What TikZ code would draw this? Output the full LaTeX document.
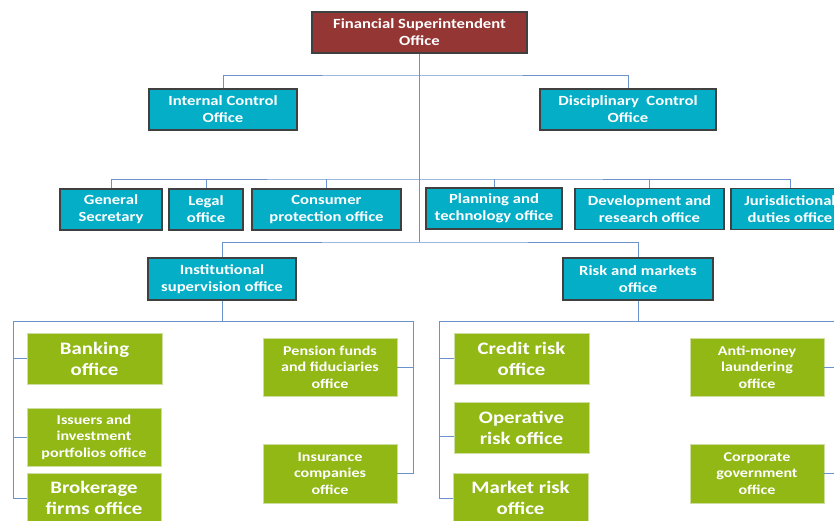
\documentclass[tikz,border=0pt]{standalone}
\usepackage{fontspec}
\setmainfont{Carlito}[FakeStretch=1.19]
\definecolor{tealbox}{RGB}{5,174,199}
\definecolor{redbox}{RGB}{148,54,52}
\definecolor{greenbox}{RGB}{146,184,22}
\definecolor{greenedge}{RGB}{205,222,160}
\definecolor{linkcol}{RGB}{108,146,204}
\begin{document}
\begin{tikzpicture}[x=1pt,y=-1pt,
  boxbase/.style={rectangle, inner sep=0pt, align=center, text=white, font=\bfseries},
  tealnode/.style={boxbase, fill=tealbox, draw=black!75, line width=1.2pt, minimum height=41pt,
     font=\bfseries\fontsize{14}{17}\selectfont},
  rednode/.style={tealnode, fill=redbox},
  greenbig/.style={boxbase, fill=greenbox, draw=greenedge, line width=0.9pt,
     font=\bfseries\fontsize{17.5}{21}\selectfont},
  greensmall/.style={boxbase, fill=greenbox, draw=greenedge, line width=0.9pt,
     font=\bfseries\fontsize{13.5}{16.5}\selectfont},
  link/.style={draw=linkcol, line width=1pt}
]
\clip (0,0) rectangle (834,520);
\fill[white] (0,0) rectangle (834,520);

% top
\node[rednode, minimum width=215pt] (fso) at (419.5,32.5) {Financial Superintendent\\Office};
\node[tealnode, minimum width=148pt] (ico) at (223,109.5) {Internal Control\\Office};
\node[tealnode, minimum width=176pt] (dco) at (628,109.5) {Disciplinary \ Control\\Office};

% second row
\node[tealnode, minimum width=102pt] (gs) at (111,209.5) {General\\Secretary};
\node[tealnode, minimum width=74pt] (legal) at (206,209.5) {Legal\\office};
\node[tealnode, minimum width=149pt] (cons) at (326.5,209.5) {Consumer\\protection office};
\node[tealnode, minimum width=136pt] (plan) at (494,208.5) {Planning and\\technology office};
\node[tealnode, minimum width=149pt] (dev) at (649.5,209) {Development and\\research office};
\node[tealnode, minimum width=118pt] (jur) at (790,209) {Jurisdictional\\duties office};

% third row
\node[tealnode, minimum width=148pt, minimum height=42pt] (inst) at (222,279) {Institutional\\supervision office};
\node[tealnode, minimum width=150pt, minimum height=42pt] (risk) at (638,279) {Risk and markets\\office};

% green left group
\node[greenbig, minimum width=135pt, minimum height=51pt] (bank) at (94.5,358.5) {Banking\\office};
\node[greensmall, minimum width=134pt, minimum height=58pt] (iss) at (94,437) {Issuers and\\investment\\portfolios office};
\node[greenbig, minimum width=134pt, minimum height=50pt] (brok) at (94,498) {Brokerage\\firms office};
\node[greensmall, minimum width=134pt, minimum height=58pt] (pen) at (330,367) {Pension funds\\and fiduciaries\\office};
\node[greensmall, minimum width=134pt, minimum height=59pt] (insur) at (330,473.5) {Insurance\\companies\\office};

% green right group
\node[greenbig, minimum width=135pt, minimum height=51pt] (cred) at (521.5,358.5) {Credit risk\\office};
\node[greenbig, minimum width=135pt, minimum height=51pt] (oper) at (521.5,427.5) {Operative\\risk office};
\node[greenbig, minimum width=135pt, minimum height=50pt] (mark) at (520.5,498) {Market risk\\office};
\node[greensmall, minimum width=134pt, minimum height=58pt] (anti) at (757,367) {Anti-money\\laundering\\office};
\node[greensmall, minimum width=134pt, minimum height=59pt] (corp) at (757,473.5) {Corporate\\government\\office};

% junction coordinates
\coordinate (j1) at (419.5,75);
\coordinate (j2) at (419.5,179);
\coordinate (j3) at (419.5,242);
\coordinate (la) at (13,321);
\coordinate (ra) at (413,321);
\coordinate (lb) at (439,321);
\coordinate (rb) at (845,321);

% connectors
\draw[link] (fso.south) -- (j3);
\draw[link] (ico.north) |- (j1) -| (dco.north);
\draw[link] (gs.north) |- (j2) -| (jur.north);
\draw[link] (legal.north) -- (legal.north |- j2);
\draw[link] (cons.north) -- (cons.north |- j2);
\draw[link] (plan.north) -- (plan.north |- j2);
\draw[link] (dev.north) -- (dev.north |- j2);
\draw[link] (inst.north) |- (j3) -| (risk.north);

\draw[link] (inst.south) -- (inst.south |- la);
\draw[link] (la) -- (ra);
\draw[link] (la) |- (brok.west);
\draw[link] (bank.west) -- (bank.west -| la);
\draw[link] (iss.west) -- (iss.west -| la);
\draw[link] (ra) |- (insur.east);
\draw[link] (pen.east) -- (pen.east -| ra);

\draw[link] (risk.south) -- (risk.south |- lb);
\draw[link] (lb) -- (rb);
\draw[link] (lb) |- (mark.west);
\draw[link] (cred.west) -- (cred.west -| lb);
\draw[link] ([yshift=-8.5pt]oper.west) -- ([yshift=-8.5pt]oper.west -| lb);
\draw[link] (rb) |- (corp.east);
\draw[link] (anti.east) -- (anti.east -| rb);
\end{tikzpicture}
\end{document}
